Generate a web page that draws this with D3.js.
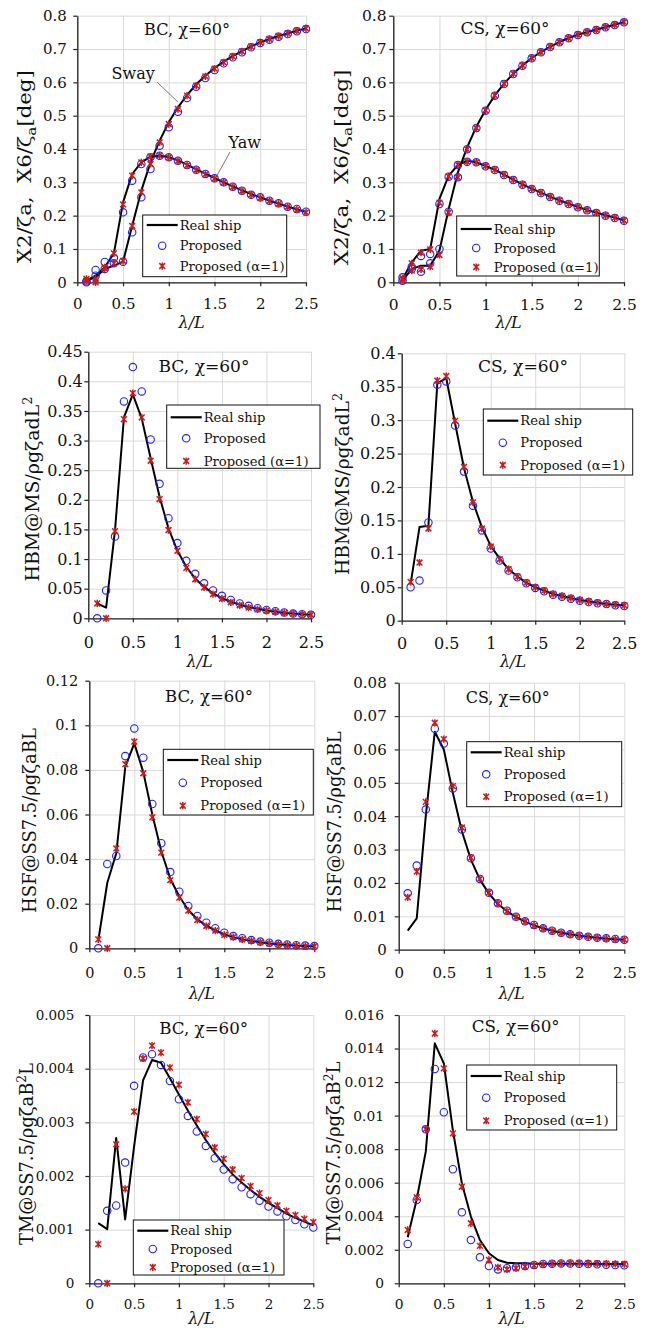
<!DOCTYPE html>
<html><head><meta charset="utf-8">
<script src="https://cdn.jsdelivr.net/npm/d3@7"></script>
<style>body{margin:0;background:#fff}svg{display:block}</style>
</head><body><div id="chart"></div>
<script>
// ---------------- DATA ----------------
const lambda = [0.1,0.2,0.3,0.4,0.5,0.6,0.7,0.8,0.9,1.0,1.1,1.2,1.3,1.4,1.5,1.6,1.7,1.8,1.9,2.0,2.1,2.2,2.3,2.4,2.5];
const xTicks = [0,0.5,1,1.5,2,2.5];

// Panel 1: BC motion (sway / yaw)
const bcSwayReal = [0.005,0.015,0.04,0.05,0.062,0.17,0.275,0.36,0.425,0.48,0.525,0.562,0.594,0.62,0.643,0.662,0.679,0.694,0.708,0.72,0.73,0.739,0.747,0.755,0.762];
const bcSwayProp = [0.003,0.02,0.04,0.057,0.062,0.15,0.255,0.34,0.41,0.465,0.512,0.553,0.587,0.613,0.637,0.657,0.675,0.69,0.705,0.718,0.728,0.737,0.745,0.753,0.76];
const bcSwayA1   = [0.01,0.0,0.042,0.057,0.064,0.169,0.27,0.355,0.42,0.475,0.52,0.56,0.59,0.618,0.641,0.66,0.678,0.693,0.707,0.72,0.73,0.739,0.747,0.755,0.762];
const bcYawReal  = [0.005,0.02,0.045,0.087,0.24,0.325,0.36,0.377,0.38,0.376,0.366,0.353,0.339,0.326,0.313,0.3,0.288,0.276,0.265,0.255,0.245,0.236,0.227,0.219,0.211];
const bcYawProp  = [0.0,0.037,0.061,0.074,0.21,0.305,0.355,0.375,0.38,0.375,0.365,0.352,0.338,0.325,0.312,0.3,0.287,0.275,0.263,0.255,0.245,0.237,0.227,0.22,0.212];
const bcYawA1    = [0.005,0.01,0.045,0.087,0.234,0.32,0.36,0.377,0.38,0.375,0.364,0.351,0.337,0.324,0.311,0.299,0.286,0.274,0.263,0.253,0.244,0.235,0.226,0.218,0.21];

// Panel 2: CS motion
const csSwayReal = [0.005,0.04,0.05,0.05,0.095,0.22,0.33,0.405,0.467,0.518,0.561,0.596,0.626,0.651,0.673,0.691,0.707,0.721,0.733,0.743,0.751,0.758,0.766,0.773,0.781];
const csSwayProp = [0.005,0.04,0.032,0.057,0.1,0.212,0.315,0.399,0.463,0.515,0.56,0.595,0.625,0.65,0.672,0.69,0.706,0.72,0.732,0.742,0.75,0.757,0.765,0.772,0.78];
const csSwayA1   = [0.008,0.035,0.039,0.047,0.082,0.209,0.315,0.399,0.463,0.516,0.561,0.596,0.626,0.651,0.673,0.691,0.707,0.721,0.733,0.743,0.751,0.758,0.766,0.773,0.781];
const csYawReal  = [0.01,0.06,0.095,0.1,0.25,0.32,0.352,0.365,0.36,0.349,0.338,0.323,0.308,0.294,0.281,0.269,0.257,0.246,0.236,0.226,0.217,0.209,0.201,0.194,0.186];
const csYawProp  = [0.015,0.047,0.079,0.085,0.235,0.317,0.352,0.362,0.36,0.348,0.337,0.322,0.307,0.293,0.28,0.268,0.256,0.245,0.235,0.225,0.216,0.208,0.2,0.193,0.185];
const csYawA1    = [0.012,0.057,0.089,0.099,0.239,0.318,0.353,0.362,0.36,0.349,0.338,0.323,0.308,0.294,0.281,0.269,0.257,0.246,0.236,0.226,0.217,0.209,0.201,0.194,0.186];

// Panel 3: BC HBM
const bcHbmReal = [0.025,0.018,0.149,0.339,0.378,0.337,0.27,0.205,0.152,0.114,0.087,0.067,0.053,0.042,0.034,0.028,0.023,0.019,0.016,0.013,0.011,0.009,0.008,0.007,0.006];
const bcHbmProp = [0,0.047,0.138,0.366,0.424,0.383,0.302,0.227,0.169,0.127,0.097,0.075,0.059,0.047,0.038,0.031,0.025,0.021,0.017,0.014,0.012,0.01,0.008,0.007,0.006];
const bcHbmA1   = [0.025,0,0.147,0.336,0.38,0.339,0.266,0.201,0.149,0.114,0.085,0.066,0.052,0.041,0.033,0.027,0.022,0.018,0.015,0.013,0.011,0.009,0.008,0.007,0.006];

// Panel 4: CS HBM
const csHbmReal = [0.055,0.14,0.142,0.355,0.363,0.295,0.228,0.178,0.14,0.112,0.093,0.077,0.066,0.057,0.05,0.045,0.04,0.037,0.034,0.031,0.029,0.027,0.025,0.024,0.023];
const csHbmProp = [0.05,0.06,0.147,0.353,0.358,0.292,0.223,0.172,0.135,0.108,0.09,0.075,0.065,0.056,0.049,0.044,0.039,0.036,0.033,0.03,0.028,0.026,0.025,0.023,0.022];
const csHbmA1   = [0.058,0.087,0.138,0.359,0.366,0.299,0.23,0.177,0.138,0.111,0.092,0.077,0.066,0.057,0.05,0.045,0.04,0.037,0.034,0.031,0.029,0.027,0.025,0.024,0.023];

// Panel 5: BC HSF
const bcHsfReal = [0.0035,0.0294,0.0426,0.0814,0.0919,0.079,0.06,0.0435,0.0312,0.0232,0.0172,0.013,0.0102,0.008,0.0062,0.005,0.004,0.0033,0.0027,0.0022,0.0018,0.0015,0.0012,0.001,0.0009];
const bcHsfProp = [0,0.0378,0.0414,0.0862,0.0986,0.0855,0.0647,0.0471,0.0342,0.0254,0.019,0.0145,0.0115,0.009,0.007,0.0055,0.0045,0.0037,0.003,0.0025,0.002,0.0017,0.0014,0.0012,0.001];
const bcHsfA1   = [0.004,0,0.0448,0.0826,0.0927,0.0785,0.0587,0.0429,0.0306,0.0227,0.0169,0.0127,0.01,0.0079,0.006,0.005,0.004,0.0033,0.0027,0.0022,0.0018,0.0015,0.0012,0.001,0.0009];

// Panel 6: CS HSF
const csHsfReal = [0.0057,0.0094,0.04,0.0653,0.06,0.047,0.0355,0.027,0.021,0.0168,0.0137,0.0115,0.0098,0.0084,0.0073,0.0064,0.0057,0.0051,0.0046,0.0042,0.0039,0.0036,0.0033,0.0031,0.003];
const csHsfProp = [0.0169,0.0252,0.042,0.0662,0.0618,0.0483,0.036,0.0274,0.0212,0.0171,0.0139,0.0117,0.0099,0.0085,0.0074,0.0064,0.0057,0.0051,0.0046,0.0042,0.0039,0.0036,0.0034,0.0032,0.003];
const csHsfA1   = [0.0157,0.0234,0.0443,0.068,0.0631,0.049,0.0366,0.0276,0.0212,0.0171,0.0138,0.0115,0.0098,0.0084,0.0072,0.0063,0.0056,0.005,0.0046,0.0042,0.0039,0.0036,0.0033,0.0031,0.003];

// Panel 7: BC TM
const bcTmReal = [0.00112,0.00101,0.00271,0.00119,0.00255,0.00378,0.00416,0.00411,0.00382,0.00352,0.00322,0.00294,0.00267,0.00243,0.00222,0.00203,0.00188,0.00174,0.00161,0.0015,0.0014,0.0013,0.00122,0.00115,0.00108];
const bcTmProp = [0,0.00135,0.00145,0.00225,0.00368,0.00421,0.00427,0.00407,0.00377,0.00343,0.00312,0.00283,0.00256,0.00233,0.00212,0.00194,0.00179,0.00166,0.00154,0.00143,0.00134,0.00125,0.00118,0.0011,0.00104];
const bcTmA1   = [0.00073,0,0.00259,0.00176,0.0032,0.00419,0.00443,0.0043,0.00402,0.0037,0.00337,0.00306,0.00278,0.00253,0.00232,0.00212,0.00196,0.00181,0.00168,0.00155,0.00145,0.00135,0.00127,0.0012,0.00114];

// Panel 8: CS TM
const csTmReal = [0.00274,0.00501,0.00785,0.01431,0.01312,0.00914,0.00596,0.00398,0.00258,0.00179,0.00139,0.00123,0.00119,0.00119,0.00117,0.00116,0.00116,0.00116,0.00116,0.00116,0.00116,0.00115,0.00115,0.00115,0.00115];
const csTmProp = [0.00235,0.00497,0.00918,0.01278,0.0102,0.0068,0.00423,0.00258,0.00155,0.00103,0.00083,0.0009,0.00095,0.00103,0.00109,0.00115,0.00117,0.00118,0.00118,0.00117,0.00115,0.00113,0.00111,0.00109,0.00107];
const csTmA1   = [0.00318,0.00513,0.0092,0.0149,0.01282,0.00894,0.00576,0.00358,0.00223,0.00139,0.00095,0.00083,0.0009,0.001,0.00107,0.00113,0.00117,0.00119,0.0012,0.0012,0.00119,0.00118,0.00117,0.00116,0.00115];

// Tick labels
const yTicksMotion = [0,0.1,0.2,0.3,0.4,0.5,0.6,0.7,0.8];
const yTicksBcHbm = [0,0.05,0.1,0.15,0.2,0.25,0.3,0.35,0.4,0.45];
const yTicksCsHbm = [0,0.05,0.1,0.15,0.2,0.25,0.3,0.35,0.4];
const yTicksBcHsf = [0,0.02,0.04,0.06,0.08,0.1,0.12];
const yTicksCsHsf = [0,0.01,0.02,0.03,0.04,0.05,0.06,0.07,0.08];
const yTicksBcTm = [0,0.001,0.002,0.003,0.004,0.005];
const yTicksCsTm = [0,0.002,0.004,0.006,0.008,0.01,0.012,0.014,0.016];

const legendLabels = ["Real ship","Proposed","Proposed (α=1)"];
const titleBC = "BC, χ=60°", titleCS = "CS, χ=60°";
const yLabMotion = [["X2/ζa,  X6/ζ","n"],["a","sub"],["[deg]","n"]];
const yLabHbm = [["HBM@MS/ρgζadL","n"],["2","sup"]];
const yLabHsf = [["HSF@SS7.5/ρgζaBL","n"]];
const yLabTm = [["TM@SS7.5/ρgζaB","n"],["2","sup"],["L","n"]];

// ---------------- LAYOUT ----------------
const panels = [
 {title:titleBC, titleLen:86, ylab:yLabMotion, ylabLen:193, tickFs:15, yTicks:yTicksMotion, groups:[[bcSwayReal,bcSwayProp,bcSwayA1],[bcYawReal,bcYawProp,bcYawA1]],
  box:{x0:77.3,x1:306,yb:282.3,yt:15.7}, ypad:6.5, xpad:12.5, titlePos:[187,34.5], ylabPos:[25,166.7], xlabY:327.5,
  legend:{x:142.7,y:215,w:144,h:61.7,rows:[225,245.7,266]}, annot:true},
 {title:titleCS, titleLen:89, ylab:yLabMotion, ylabLen:196, tickFs:15.5, yTicks:yTicksMotion, groups:[[csSwayReal,csSwayProp,csSwayA1],[csYawReal,csYawProp,csYawA1]],
  box:{x0:393.3,x1:624,yb:282.3,yt:15.7}, ypad:2.7, xpad:13, titlePos:[505,33.5], ylabPos:[341.7,167.5], xlabY:327.5,
  legend:{x:456.7,y:216,w:142.6,h:60,rows:[229,248,267]}},
 {title:titleBC, titleLen:91, ylab:yLabHbm, ylabLen:185, tickFs:16, yTicks:yTicksBcHbm, groups:[[bcHbmReal,bcHbmProp,bcHbmA1]],
  box:{x0:88.3,x1:311,yb:618.3,yt:351.7}, ypad:1.5, xpad:14.5, titlePos:[204,372], ylabPos:[33,489], xlabY:667,
  legend:{x:166.7,y:405,w:153.3,h:63.3,rows:[417.3,438.3,461]}},
 {title:titleCS, titleLen:90, ylab:yLabHbm, ylabLen:182, tickFs:16, yTicks:yTicksCsHbm, groups:[[csHbmReal,csHbmProp,csHbmA1]],
  box:{x0:401.7,x1:624.3,yb:620.7,yt:353.3}, ypad:2, xpad:13, titlePos:[523,372], ylabPos:[343,484], xlabY:667,
  legend:{x:483.3,y:409,w:149.4,h:66,rows:[420.7,442.7,465]}},
 {title:titleBC, titleLen:88, ylab:yLabHsf, ylabLen:185, tickFs:14.5, yTicks:yTicksBcHsf, groups:[[bcHsfReal,bcHsfProp,bcHsfA1]],
  box:{x0:89.3,x1:314.3,yb:948.3,yt:680.7}, ypad:7, xpad:15, titlePos:[209,702], ylabPos:[30,820.5], xlabY:999,
  legend:{x:163.3,y:749.3,w:150,h:65.7,rows:[760,782.7,805.7]}},
 {title:titleCS, titleLen:84, ylab:yLabHsf, ylabLen:181, tickFs:15, yTicks:yTicksCsHsf, groups:[[csHsfReal,csHsfProp,csHsfA1]],
  box:{x0:398.7,x1:624.3,yb:949.7,yt:682.7}, ypad:8, xpad:14, titlePos:[507.7,703], ylabPos:[335,821.7], xlabY:999,
  legend:{x:466.7,y:741.7,w:155,h:65,rows:[752.3,774.3,796.7]}},
 {title:titleBC, titleLen:89, ylab:yLabTm, ylabLen:182, tickFs:13.5, yTicks:yTicksBcTm, groups:[[bcTmReal,bcTmProp,bcTmA1]],
  box:{x0:89.3,x1:313.3,yb:1283.3,yt:1015}, ypad:11, xpad:12, titlePos:[203.7,1033.5], ylabPos:[26.7,1154], xlabY:1323.5,
  legend:{x:133.3,y:1220,w:150.7,h:55,rows:[1230.7,1249,1267.3]}},
 {title:titleCS, titleLen:88, ylab:yLabTm, ylabLen:183, tickFs:13.8, yTicks:yTicksCsTm, groups:[[csTmReal,csTmProp,csTmA1]],
  box:{x0:398.7,x1:624.3,yb:1283.3,yt:1015}, ypad:10.7, xpad:12, titlePos:[515.7,1032], ylabPos:[334,1153], xlabY:1323.5,
  legend:{x:466.7,y:1065,w:150,h:65,rows:[1076,1097.7,1120.7]}}
];

const FONT = "'DejaVu Serif', 'Liberation Serif', serif";
const BLUE = "#1f1fff", RED = "#cc1a1a";
const LEG_FS = 14, LEG_TARGET = 105, TITLE_FS = 16.5, YLAB_FS = 18.5;

const svg = d3.select("#chart").append("svg").attr("width",646).attr("height",1328)
  .style("background","#fff").attr("font-family",FONT);

function starPath(h){
  return `M${-h},${-h}L${h},${h}M${-h},${h}L${h},${-h}M0,${-h*1.25}L0,${h*1.25}`;
}

panels.forEach((p,pi)=>{
  const b = p.box;
  const yMax = p.yTicks[p.yTicks.length-1];
  const x = d3.scaleLinear().domain([0,2.5]).range([b.x0,b.x1]);
  const y = d3.scaleLinear().domain([0,yMax]).range([b.yb,b.yt]);
  const g = svg.append("g");

  // grid
  g.append("g").attr("transform",`translate(0,${b.yb})`)
    .call(d3.axisBottom(x).tickValues(xTicks).tickSize(-(b.yb-b.yt)).tickFormat(""))
    .call(s=>{s.select(".domain").remove(); s.selectAll("line").attr("stroke","#d9d9d9").attr("stroke-width",1);});
  g.append("g").attr("transform",`translate(${b.x0},0)`)
    .call(d3.axisLeft(y).tickValues(p.yTicks).tickSize(-(b.x1-b.x0)).tickFormat(""))
    .call(s=>{s.select(".domain").remove(); s.selectAll("line").attr("stroke","#d9d9d9").attr("stroke-width",1);});

  // axes
  const xa = g.append("g").attr("transform",`translate(0,${b.yb})`)
    .call(d3.axisBottom(x).tickValues(xTicks).tickSize(4).tickPadding(p.xpad).tickFormat(d=>String(d)).tickSizeOuter(0));
  const ya = g.append("g").attr("transform",`translate(${b.x0},0)`)
    .call(d3.axisLeft(y).tickValues(p.yTicks).tickSize(4).tickPadding(p.ypad).tickFormat(d=>String(d)).tickSizeOuter(0));
  [xa,ya].forEach(a=>{
    a.select(".domain").attr("stroke","#222").attr("stroke-width",1.3);
    a.selectAll(".tick line").attr("stroke","#222").attr("stroke-width",1.2);
    a.selectAll("text").attr("font-family",FONT).attr("font-size",p.tickFs).attr("fill","#111");
  });

  // series
  const line = d3.line().x((d,i)=>x(lambda[i])).y(d=>y(d));
  p.groups.forEach(([real,prop,a1])=>{
    g.append("path").datum(real).attr("d",line).attr("fill","none").attr("stroke","#000").attr("stroke-width",2).attr("stroke-linejoin","round");
  });
  p.groups.forEach(([real,prop,a1])=>{
    g.selectAll(null).data(prop).join("circle")
      .attr("cx",(d,i)=>x(lambda[i])).attr("cy",d=>y(d)).attr("r",3.7)
      .attr("fill","none").attr("stroke",BLUE).attr("stroke-width",1.1);
  });
  p.groups.forEach(([real,prop,a1])=>{
    g.selectAll(null).data(a1).join("path")
      .attr("transform",(d,i)=>`translate(${x(lambda[i])},${y(d)})`)
      .attr("d",starPath(2.9)).attr("fill","none").attr("stroke",RED).attr("stroke-width",1.5);
  });

  // annotations (panel 1)
  if(p.annot){
    const ann = [
      {t:"Sway", tx:0.61, ty:0.628, l:[[0.871,0.601],[1.10,0.541]]},
      {t:"Yaw", tx:1.83, ty:0.421, l:[[1.67,0.391],[1.53,0.322]]}
    ];
    ann.forEach(a=>{
      g.append("line").attr("x1",x(a.l[0][0])).attr("y1",y(a.l[0][1])).attr("x2",x(a.l[1][0])).attr("y2",y(a.l[1][1]))
        .attr("stroke","#555").attr("stroke-width",0.8);
      g.append("text").attr("x",x(a.tx)).attr("y",y(a.ty)).attr("dy","0.35em").attr("text-anchor","middle")
        .attr("font-size",16).attr("fill","#111").text(a.t);
    });
  }

  // title
  g.append("text").attr("x",p.titlePos[0]).attr("y",p.titlePos[1]).attr("text-anchor","middle")
    .attr("font-size",TITLE_FS).attr("fill","#111")
    .attr("textLength",p.titleLen).attr("lengthAdjust","spacingAndGlyphs").text(p.title);

  // x label
  g.append("text").attr("x",(b.x0+b.x1)/2).attr("y",p.xlabY).attr("text-anchor","middle")
    .attr("font-size",16).attr("font-style","italic").attr("fill","#111").text("λ/L");

  // y label (stretched along its length to the reference extent)
  const fs = YLAB_FS;
  const yl = g.append("text").attr("transform",`translate(${p.ylabPos[0]},${p.ylabPos[1]}) rotate(-90)`)
    .attr("text-anchor","middle").attr("dy","0.35em").attr("font-size",fs).attr("fill","#111")
    .style("white-space","pre");
  let shift = 0;
  p.ylab.forEach(([t,type])=>{
    const ts = yl.append("tspan").text(t);
    if(type==="sub"){ ts.attr("font-size",fs*0.72).attr("dy",fs*0.22); shift=fs*0.22; }
    else if(type==="sup"){ ts.attr("font-size",fs*0.68).attr("dy",-fs*0.38); shift=-fs*0.38; }
    else { if(shift!==0){ ts.attr("dy",-shift); shift=0; } }
  });
  const len = yl.node().getComputedTextLength();
  if(len>0){
    const sx = p.ylabLen/len;
    yl.attr("transform",`translate(${p.ylabPos[0]},${p.ylabPos[1]}) rotate(-90) scale(${sx},1)`);
  }

  // legend
  const L = p.legend;
  const lg = g.append("g");
  lg.append("rect").attr("x",L.x).attr("y",L.y).attr("width",L.w).attr("height",L.h)
    .attr("fill","#fff").attr("stroke","#111").attr("stroke-width",1);
  const sx0 = L.x+4, sx1 = L.x+35, sc = (sx0+sx1)/2;
  lg.append("line").attr("x1",sx0).attr("x2",sx1).attr("y1",L.rows[0]).attr("y2",L.rows[0]).attr("stroke","#000").attr("stroke-width",2.2);
  lg.append("circle").attr("cx",sc).attr("cy",L.rows[1]).attr("r",3.7).attr("fill","none").attr("stroke",BLUE).attr("stroke-width",1.1);
  lg.append("path").attr("transform",`translate(${sc},${L.rows[2]})`).attr("d",starPath(2.9)).attr("fill","none").attr("stroke",RED).attr("stroke-width",1.5);
  const texts = legendLabels.map((t,i)=>
    lg.append("text").attr("x",L.x+37).attr("y",L.rows[i]).attr("dy","0.35em").attr("font-size",LEG_FS).attr("fill","#111").text(t));
  // fit legend text so the longest label spans the reference width
  const longest = texts[2].node().getComputedTextLength();
  if(longest>0){
    const k = LEG_TARGET/longest;
    texts.forEach(tx=>tx.attr("font-size",LEG_FS*k));
  }
});
</script>
</body></html>
